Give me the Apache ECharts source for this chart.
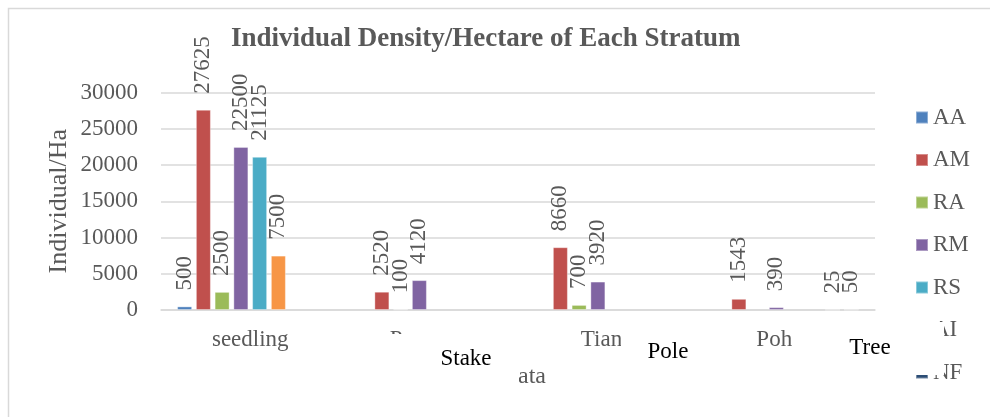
<!DOCTYPE html>
<html>
<head>
<meta charset="utf-8">
<script src="https://cdn.jsdelivr.net/npm/echarts@6/dist/echarts.min.js"></script>
<style>
html, body { margin: 0; padding: 0; background: #fff; }
#chart { width: 990px; height: 417px; }
</style>
</head>
<body>
<div id="chart"></div>
<script>
var strata = ['seedling', 'Pancang', 'Tiang', 'Pohon'];
var seriesNames = ['AA', 'AM', 'RA', 'RM', 'RS', 'AI', 'NF', 'Other'];
var seriesColors = ['#4F81BD', '#C0504D', '#9BBB59', '#8064A2', '#4BACC6', '#F79646', '#2C4D75', '#772C2A'];
var AA = [500, null, null, null];
var AM = [27625, 2520, 8660, 1543];
var RA = [2500, 100, 700, null];
var RM = [22500, 4120, 3920, 390];
var RS = [21125, null, null, null];
var AI = [7500, null, null, null];
var NF = [null, null, null, 25];
var Other = [null, null, null, 50];
var yTicks = [0, 30000, 5000];

var font = '"Liberation Serif", "Times New Roman", serif';
var grey = '#595959';

function chart(){
var myChart = echarts.init(document.getElementById('chart'));
var values = [AA, AM, RA, RM, RS, AI, NF, Other];
var series = [];
for (var i = 0; i < values.length; i++) {
    series.push({
        name: seriesNames[i],
        type: 'bar',
        data: values[i],
        barWidth: 15,
        barGap: '25%',
        color: seriesColors[i],
        itemStyle: {
            borderColor: 'rgba(255,255,255,0.35)',
            borderWidth: 1
        },
        label: {
            show: true,
            position: 'top',
            rotate: 90,
            align: 'left',
            verticalAlign: 'middle',
            distance: 16,
            fontFamily: font,
            fontSize: 23,
            color: grey
        }
    });
}
var option = {
    animation: false,
    title: {
        text: 'Individual Density/Hectare of Each Stratum',
        left: 226,
        top: 21,
        textStyle: {
            fontFamily: font,
            fontSize: 27,
            fontWeight: 'bold',
            color: grey
        }
    },
    legend: {
        data: seriesNames.slice(0, 7),
        orient: 'vertical',
        left: 910,
        top: 101,
        itemWidth: 12,
        itemHeight: 12,
        itemGap: 19.5,
        icon: 'rect',
        textStyle: {
            fontFamily: font,
            fontSize: 23,
            color: grey
        }
    },
    grid: {
        left: 161,
        right: 115,
        top: 92.5,
        bottom: 107
    },
    xAxis: {
        type: 'category',
        data: strata,
        name: 'Strata',
        nameLocation: 'middle',
        nameGap: 55,
        nameTextStyle: {
            fontFamily: font,
            fontSize: 24,
            color: grey
        },
        axisTick: {show: false},
        axisLine: {
            lineStyle: {color: '#d9d9d9', width: 1.5}
        },
        axisLabel: {
            margin: 18,
            fontFamily: font,
            fontSize: 23,
            color: grey
        }
    },
    yAxis: {
        type: 'value',
        min: yTicks[0],
        max: yTicks[1],
        interval: yTicks[2],
        name: 'Individual/Ha',
        nameLocation: 'middle',
        nameMoveOverlap: false,
        nameGap: 89,
        nameTextStyle: {
            fontFamily: font,
            fontSize: 26,
            color: grey
        },
        axisLine: {show: false},
        axisTick: {show: false},
        splitLine: {
            lineStyle: {color: '#d9d9d9', width: 1.5}
        },
        axisLabel: {
            margin: 23,
            formatter: function (v) { return String(v); },
            fontFamily: font,
            fontSize: 23,
            color: grey
        }
    },
    graphic: [
        // chart area border
        {type: 'rect', z: 100, shape: {x: 8.5, y: 8.5, width: 1200, height: 600},
         style: {fill: 'transparent', stroke: '#d9d9d9', lineWidth: 1.5}},
        // text boxes laid over the chart
        {type: 'rect', z: 100, shape: {x: 384, y: 334, width: 135, height: 60}, style: {fill: '#fff'}},
        {type: 'text', z: 101, style: {text: 'Stake', x: 466, y: 359, font: '23px ' + font, fill: '#000',
         textAlign: 'center', textVerticalAlign: 'middle', align: 'center', verticalAlign: 'middle'}},
        {type: 'rect', z: 100, shape: {x: 621, y: 326, width: 99, height: 48}, style: {fill: '#fff'}},
        {type: 'text', z: 101, style: {text: 'Pole', x: 668, y: 352, font: '23px ' + font, fill: '#000',
         textAlign: 'center', textVerticalAlign: 'middle', align: 'center', verticalAlign: 'middle'}},
        {type: 'rect', z: 100, shape: {x: 793, y: 322, width: 151, height: 53}, style: {fill: '#fff'}},
        {type: 'text', z: 101, style: {text: 'Tree', x: 870, y: 348, font: '23px ' + font, fill: '#000',
         textAlign: 'center', textVerticalAlign: 'middle', align: 'center', verticalAlign: 'middle'}}
    ],
    series: series
};
myChart.setOption(option);
}
chart();
</script>
</body>
</html>
